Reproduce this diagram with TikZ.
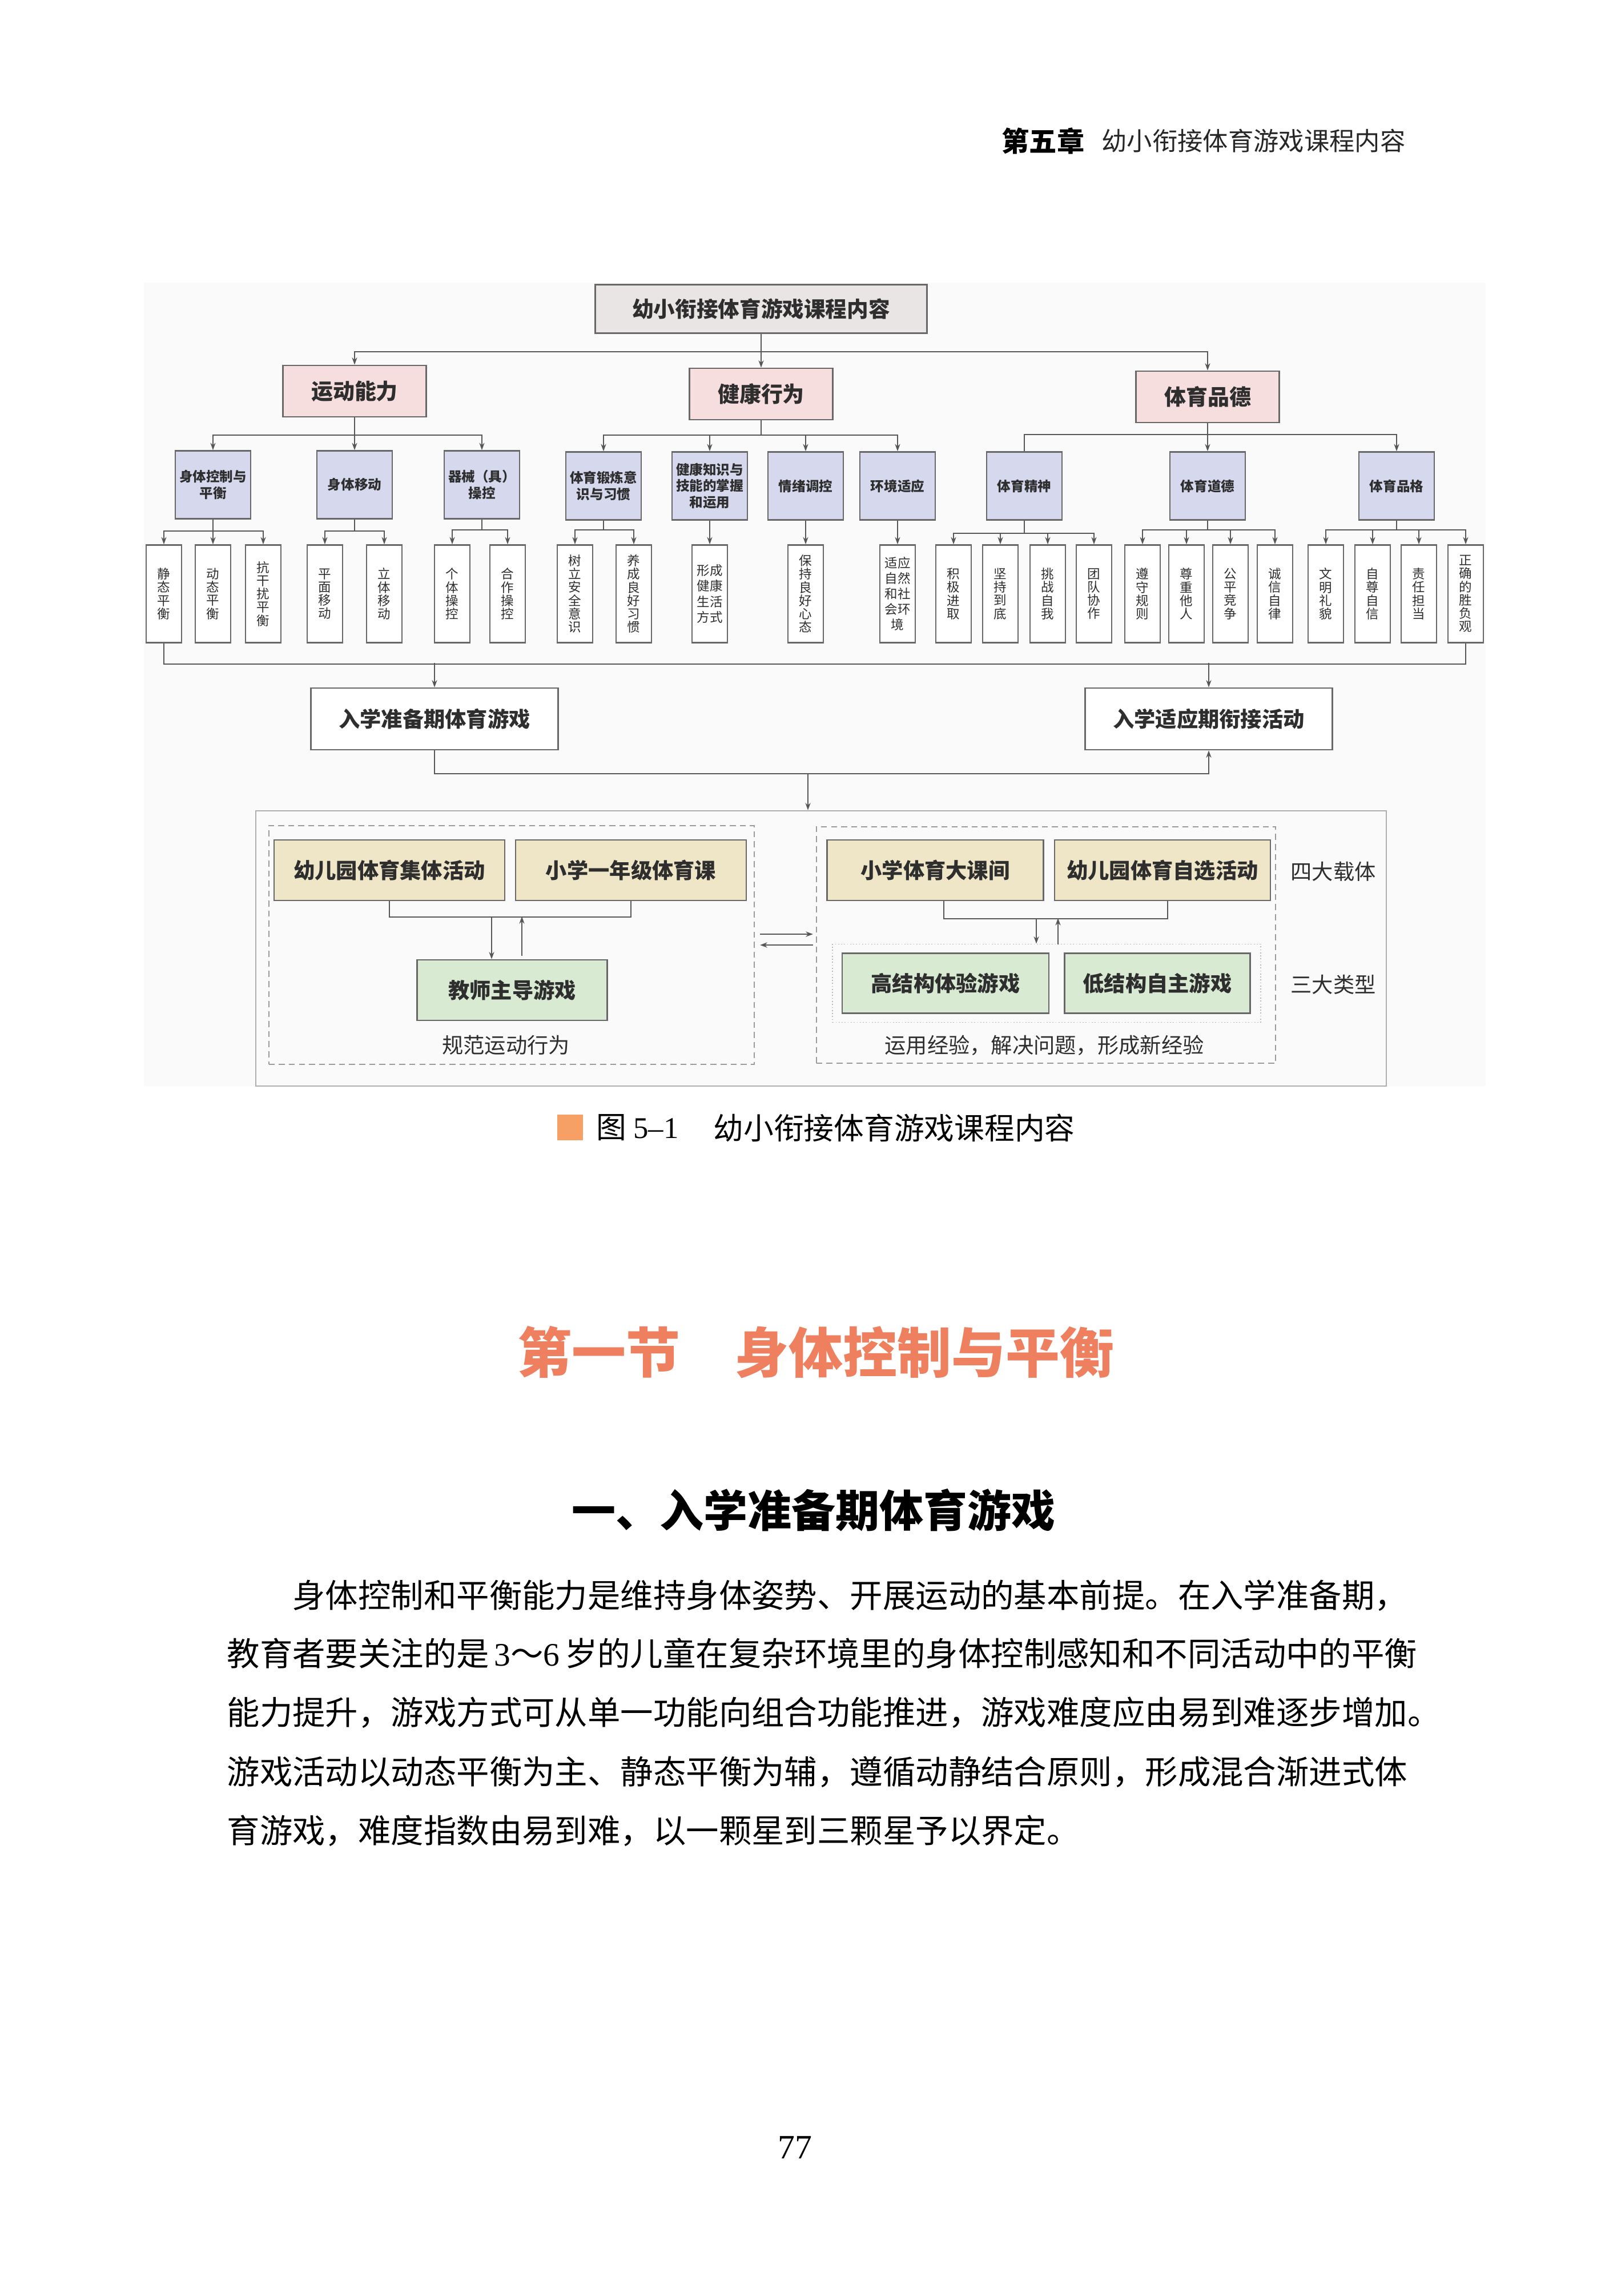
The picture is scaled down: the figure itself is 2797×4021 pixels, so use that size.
\documentclass[tikz,border=0pt]{standalone}
\usepackage{fontspec}
\setmainfont{Noto Sans CJK SC}
\newfontfamily\numfont{Liberation Serif}
\usetikzlibrary{arrows.meta}
\definecolor{linec}{HTML}{575757}
\definecolor{boxline}{HTML}{686868}
\definecolor{grpline}{HTML}{9A9A9A}
\definecolor{inkc}{HTML}{2E2E2E}
\definecolor{bgfill}{HTML}{FAFAFA}
\definecolor{topfill}{HTML}{E9E5E5}
\definecolor{catfill}{HTML}{F6DDDE}
\definecolor{subfill}{HTML}{D6D9EE}
\definecolor{tanfill}{HTML}{EEE6C6}
\definecolor{gamefill}{HTML}{D9EAD3}
\definecolor{sectc}{HTML}{EE8060}
\definecolor{capsq}{HTML}{F7A066}

\begin{document}
\begin{tikzpicture}[x=0.01cm,y=-0.01cm,>={Stealth[length=3.6pt,width=2.6pt]},
  box/.style={draw=boxline,line width=0.7pt,text=inkc,inner sep=0pt,align=center},
  topbox/.style={box,fill=topfill,minimum width=5.81cm,minimum height=0.85cm,font=\fontsize{10.7}{12}\selectfont\bfseries},
  catbox/.style={box,fill=catfill,minimum width=2.51cm,minimum height=0.9cm,font=\fontsize{10.8}{12}\selectfont\bfseries},
  subbox/.style={box,fill=subfill,minimum width=1.32cm,minimum height=1.19cm,font=\fontsize{6.7}{8.2}\selectfont\bfseries},
  leafbox/.style={box,fill=white,minimum width=0.62cm,minimum height=1.71cm,font=\fontsize{6.4}{6.6}\selectfont},
  pairbox/.style={leafbox,font=\fontsize{6.4}{7.7}\selectfont},
  stagebox/.style={box,fill=white,minimum width=4.33cm,minimum height=1.08cm,font=\fontsize{10.6}{12}\selectfont\bfseries},
  carrierbox/.style={box,fill=tanfill,minimum height=1.06cm,font=\fontsize{10.6}{12}\selectfont\bfseries},
  gamebox/.style={box,fill=gamefill,minimum height=1.05cm,font=\fontsize{10.6}{12}\selectfont\bfseries},
  groupbox/.style={draw=grpline,line width=0.5pt,densely dashed,inner sep=0pt},
  note/.style={text=inkc,font=\fontsize{10.6}{12}\selectfont},
  conn/.style={draw=linec,line width=0.55pt},
  bodyline/.style={anchor=west,inner sep=0pt,text=black,font=\fontsize{16.33}{20}\selectfont}]
\fill[white] (0,0) rectangle (2797,4021);
\useasboundingbox (0,0) rectangle (2797,4021);
\fill[bgfill] (252,495) rectangle (2602,1902);

\node[anchor=west,inner sep=0pt,font=\fontsize{13.7}{15}\selectfont\bfseries] (chapno) at (1754,247) {第五章};
\node[anchor=east,inner sep=0pt,text=black!85,font=\fontsize{12.6}{14}\selectfont] (chaptitle) at (2462,247) {幼小衔接体育游戏课程内容};

\node[topbox] (root) at (1333,541) {幼小衔接体育游戏课程内容};
\node[catbox] (yd) at (621,685) {运动能力};
\node[catbox] (jk) at (1333,690) {健康行为};
\node[catbox] (pd) at (2115,695) {体育品德};

\node[subbox] (a1) at (373,849) {身体控制与\\平衡};
\node[subbox] (a2) at (621,849) {身体移动};
\node[subbox] (a3) at (844,849) {器械（具）\\操控};
\node[subbox] (b1) at (1057,851) {体育锻炼意\\识与习惯};
\node[subbox] (b2) at (1243,851) {健康知识与\\技能的掌握\\和运用};
\node[subbox] (b3) at (1411,851) {情绪调控};
\node[subbox] (b4) at (1572,851) {环境适应};
\node[subbox] (c1) at (1794,851) {体育精神};
\node[subbox] (c2) at (2115,851) {体育道德};
\node[subbox] (c3) at (2446,851) {体育品格};

\node[leafbox] (a11) at (287,1040) {静\\态\\平\\衡};
\node[leafbox] (a12) at (373,1040) {动\\态\\平\\衡};
\node[leafbox] (a13) at (461,1040) {抗\\干\\扰\\平\\衡};
\node[leafbox] (a21) at (569,1040) {平\\面\\移\\动};
\node[leafbox] (a22) at (673,1040) {立\\体\\移\\动};
\node[leafbox] (a31) at (792,1040) {个\\体\\操\\控};
\node[leafbox] (a32) at (889,1040) {合\\作\\操\\控};
\node[leafbox] (b11) at (1007,1040) {树\\立\\安\\全\\意\\识};
\node[leafbox] (b12) at (1110,1040) {养\\成\\良\\好\\习\\惯};
\node[pairbox] (b21) at (1243,1040) {形成\\健康\\生活\\方式};
\node[leafbox] (b31) at (1411,1040) {保\\持\\良\\好\\心\\态};
\node[pairbox] (b41) at (1572,1040) {适应\\自然\\和社\\会环\\境};
\node[leafbox] (c11) at (1670,1040) {积\\极\\进\\取};
\node[leafbox] (c12) at (1752,1040) {坚\\持\\到\\底};
\node[leafbox] (c13) at (1835,1040) {挑\\战\\自\\我};
\node[leafbox] (c14) at (1916,1040) {团\\队\\协\\作};
\node[leafbox] (c21) at (2001,1040) {遵\\守\\规\\则};
\node[leafbox] (c22) at (2078,1040) {尊\\重\\他\\人};
\node[leafbox] (c23) at (2155,1040) {公\\平\\竞\\争};
\node[leafbox] (c24) at (2233,1040) {诚\\信\\自\\律};
\node[leafbox] (c31) at (2322,1040) {文\\明\\礼\\貌};
\node[leafbox] (c32) at (2404,1040) {自\\尊\\自\\信};
\node[leafbox] (c33) at (2485,1040) {责\\任\\担\\当};
\node[leafbox] (c34) at (2567,1040) {正\\确\\的\\胜\\负\\观};

\node[stagebox] (prep) at (761,1259) {入学准备期体育游戏};
\node[stagebox] (adapt) at (2117,1259) {入学适应期衔接活动};

\node[draw=grpline!80,line width=0.6pt,minimum width=19.78cm,minimum height=4.82cm,inner sep=0pt] (outer) at (1438,1661) {};
\node[groupbox,minimum width=8.5cm,minimum height=4.18cm] (leftgrp) at (896,1655) {};
\node[groupbox,minimum width=8.04cm,minimum height=4.14cm] (rightgrp) at (1832,1655) {};
\node[draw=grpline!70,line width=0.5pt,densely dotted,minimum width=7.49cm,minimum height=1.37cm,inner sep=0pt] (types) at (1833,1722) {};

\node[carrierbox,minimum width=4.04cm] (kgcol) at (682,1524) {幼儿园体育集体活动};
\node[carrierbox,minimum width=4.04cm] (pe1) at (1105,1524) {小学一年级体育课};
\node[gamebox,minimum width=3.33cm,minimum height=1.06cm] (tgame) at (897,1734) {教师主导游戏};
\node[carrierbox,minimum width=3.79cm] (recess) at (1638,1524) {小学体育大课间};
\node[carrierbox,minimum width=3.78cm] (kgfree) at (2036,1524) {幼儿园体育自选活动};
\node[gamebox,minimum width=3.62cm] (hsgame) at (1656,1722) {高结构体验游戏};
\node[gamebox,minimum width=3.25cm] (lsgame) at (2027,1722) {低结构自主游戏};

\node[note] (normlabel) at (886,1830) {规范运动行为};
\node[note] (explabel) at (1829,1831) {运用经验，解决问题，形成新经验};
\node[note] (carrierlabel) at (2335,1526) {四大载体};
\node[note] (typelabel) at (2335,1724) {三大类型};

\draw[conn,->] (root.south) -- +(0,31) -| (yd.north);
\draw[conn,->] (root.south) -- (jk.north);
\draw[conn,->] (root.south) -- +(0,31) -| (pd.north);

\draw[conn,->] (yd.south) -- +(0,31) -| (a1.north);
\draw[conn,->] (yd.south) -- (a2.north);
\draw[conn,->] (yd.south) -- +(0,31) -| (a3.north);
\draw[conn,->] (jk.south) -- +(0,26) -| (b1.north);
\draw[conn,->] (jk.south) -- +(0,26) -| (b2.north);
\draw[conn,->] (jk.south) -- +(0,26) -| (b3.north);
\draw[conn,->] (jk.south) -- +(0,26) -| (b4.north);
\draw[conn] (pd.south) -- +(0,20) -| (c1.north);
\draw[conn,->] (pd.south) -- (c2.north);
\draw[conn,->] (pd.south) -- +(0,20) -| (c3.north);

\draw[conn,->] (a1.south) -- +(0,20) -| (a11.north);
\draw[conn,->] (a1.south) -- (a12.north);
\draw[conn,->] (a1.south) -- +(0,20) -| (a13.north);
\draw[conn,->] (a2.south) -- +(0,20) -| (a21.north);
\draw[conn,->] (a2.south) -- +(0,20) -| (a22.north);
\draw[conn,->] (a3.south) -- +(0,18) -| (a31.north);
\draw[conn,->] (a3.south) -- +(0,18) -| (a32.north);
\draw[conn,->] (b1.south) -- +(0,16) -| (b11.north);
\draw[conn,->] (b1.south) -- +(0,16) -| (b12.north);
\draw[conn,->] (b2.south) -- (b21.north);
\draw[conn,->] (b3.south) -- (b31.north);
\draw[conn,->] (b4.south) -- (b41.north);
\draw[conn,->] (c1.south) -- +(0,22) -| (c11.north);
\draw[conn,->] (c1.south) -- +(0,22) -| (c12.north);
\draw[conn,->] (c1.south) -- +(0,22) -| (c13.north);
\draw[conn,->] (c1.south) -- +(0,22) -| (c14.north);
\draw[conn,->] (c2.south) -- +(0,16) -| (c21.north);
\draw[conn,->] (c2.south) -- +(0,16) -| (c22.north);
\draw[conn,->] (c2.south) -- +(0,16) -| (c23.north);
\draw[conn,->] (c2.south) -- +(0,16) -| (c24.north);
\draw[conn,->] (c3.south) -- +(0,16) -| (c31.north);
\draw[conn,->] (c3.south) -- +(0,16) -| (c32.north);
\draw[conn,->] (c3.south) -- +(0,16) -| (c33.north);
\draw[conn,->] (c3.south) -- +(0,16) -| (c34.north);

\draw[conn] (a11.south) -- +(0,36) -| (c34.south);
\coordinate (prepin) at (761,1161);
\coordinate (adaptin) at (2117,1161);
\draw[conn,->] (prepin) -- (prep.north);
\draw[conn,->] (adaptin) -- (adapt.north);
\draw[conn,->] (prep.south) -- +(0,41) -| (adapt.south);
\coordinate (split) at (1415,1354);
\draw[conn,->] (split) -- (split |- outer.north);

\draw[conn] (kgcol.south) -- +(0,28) -| (pe1.south);
\coordinate (ldown) at (861,1605);
\coordinate (lup) at (914,1674);
\draw[conn,->] (ldown) -- (ldown |- tgame.north);
\draw[conn,->] (lup) -- (lup |- ldown);
\draw[conn] ([xshift=0.15cm]recess.south) -- +(0,31) -| ([xshift=0.09cm]kgfree.south);
\coordinate (rdown) at (1815,1608);
\coordinate (rup) at (1853,1654);
\draw[conn,->] (rdown) -- (rdown |- types.north);
\draw[conn,->] (rup) -- (rup |- rdown);
\draw[conn,->] ([shift={(9,-19)}]leftgrp.east) -- ([shift={(-5,-19)}]rightgrp.west);
\draw[conn,<-] ([xshift=0.09cm]leftgrp.east) -- ([xshift=-0.05cm]rightgrp.west);

\node[fill=capsq,minimum size=0.45cm,inner sep=0pt] (capmark) at (998,1974) {};
\node[anchor=west,inner sep=0pt,font=\fontsize{15}{17}\selectfont] (capno) at (1044,1975) {图 {\numfont 5–1}};
\node[anchor=west,inner sep=0pt,font=\fontsize{15}{17}\selectfont] (captext) at (1249,1975) {幼小衔接体育游戏课程内容};

\node[text=sectc,font=\fontsize{27}{30}\selectfont\bfseries] (sect) at (1429,2368) {第一节\quad 身体控制与平衡};
\node[font=\fontsize{21.9}{24}\selectfont\bfseries] (subsect) at (1425,2645) {一、入学准备期体育游戏};

\node[bodyline] (para1) at (397,2794) {\hspace*{2em}身体控制和平衡能力是维持身体姿势、开展运动的基本前提。在入学准备期，};
\node[bodyline] (para2) at (397,2896) {\makebox[20.66cm][s]{教育者要关注的是 {\numfont 3}～{\numfont 6} 岁的儿童在复杂环境里的身体控制感知和不同活动中的平衡}};
\node[bodyline] (para3) at (397,2999) {能力提升，游戏方式可从单一功能向组合功能推进，游戏难度应由易到难逐步增加。};
\node[bodyline] (para4) at (397,3103) {游戏活动以动态平衡为主、静态平衡为辅，遵循动静结合原则，形成混合渐进式体};
\node[bodyline] (para5) at (397,3206) {育游戏，难度指数由易到难，以一颗星到三颗星予以界定。};

\node[font=\fontsize{17}{19}\selectfont\numfont] (pageno) at (1392,3761) {77};
\end{tikzpicture}
\end{document}
